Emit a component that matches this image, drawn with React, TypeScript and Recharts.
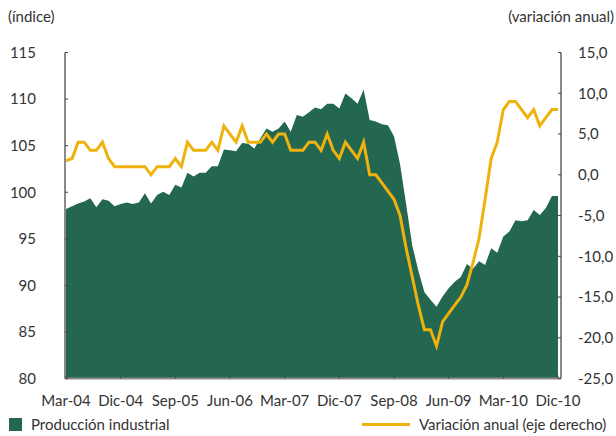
import React from 'react';
import { ComposedChart, Area, Line, XAxis, YAxis } from 'recharts';

const months: string[] = [
  'Mar-04','Abr-04','May-04','Jun-04','Jul-04','Ago-04','Sep-04','Oct-04','Nov-04','Dic-04',
  'Ene-05','Feb-05','Mar-05','Abr-05','May-05','Jun-05','Jul-05','Ago-05','Sep-05','Oct-05','Nov-05','Dic-05',
  'Ene-06','Feb-06','Mar-06','Abr-06','May-06','Jun-06','Jul-06','Ago-06','Sep-06','Oct-06','Nov-06','Dic-06',
  'Ene-07','Feb-07','Mar-07','Abr-07','May-07','Jun-07','Jul-07','Ago-07','Sep-07','Oct-07','Nov-07','Dic-07',
  'Ene-08','Feb-08','Mar-08','Abr-08','May-08','Jun-08','Jul-08','Ago-08','Sep-08','Oct-08','Nov-08','Dic-08',
  'Ene-09','Feb-09','Mar-09','Abr-09','May-09','Jun-09','Jul-09','Ago-09','Sep-09','Oct-09','Nov-09','Dic-09',
  'Ene-10','Feb-10','Mar-10','Abr-10','May-10','Jun-10','Jul-10','Ago-10','Sep-10','Oct-10','Nov-10','Dic-10',
];

const produccion: number[] = [
  98.2, 98.5, 98.8, 99.0, 99.35, 98.4, 99.25, 99.1, 98.5, 98.75,
  98.9, 98.75, 98.9, 99.9, 98.8, 99.7, 100.05, 99.7, 100.8, 100.5,
  102.1, 101.7, 102.1, 102.1, 102.8, 102.8, 104.6, 104.5, 104.4, 105.3,
  105.2, 104.7, 105.8, 106.85, 106.5, 106.85, 107.6, 106.5, 108.3, 108.1,
  108.6, 109.1, 108.9, 109.5, 109.5, 109.0, 110.6, 110.1, 109.5, 111.0,
  107.75, 107.6, 107.3, 107.2, 106.0, 103.0, 98.7, 94.3, 91.6, 89.3,
  88.45, 87.7, 88.8, 89.7, 90.4, 90.9, 92.3, 91.8, 92.6, 92.2,
  94.0, 93.5, 95.25, 95.8, 97.0, 96.9, 97.0, 98.1, 97.55, 98.3,
  99.6, 99.6,
];

const variacion: number[] = [
  1.7, 2.0, 4.0, 4.0, 3.0, 3.0, 4.0, 2.0, 1.0, 1.0,
  1.0, 1.0, 1.0, 1.0, 0.0, 1.0, 1.0, 1.0, 2.0, 1.0,
  4.0, 3.0, 3.0, 3.0, 4.0, 3.0, 6.0, 5.0, 4.0, 6.0,
  4.0, 4.0, 4.0, 5.0, 4.0, 5.0, 5.0, 3.0, 3.0, 3.0,
  4.0, 4.0, 3.0, 5.0, 3.0, 2.0, 4.0, 3.0, 2.0, 4.0,
  0.0, 0.0, -1.0, -2.0, -3.0, -5.0, -9.0, -12.5, -16.0, -19.0,
  -19.0, -21.0, -18.0, -17.0, -16.0, -15.0, -13.5, -10.8, -7.8, -3.0,
  2.0, 4.0, 8.0, 9.0, 9.0, 8.0, 7.0, 8.0, 6.0, 7.0,
  8.0, 8.0,
];

const leftTicks: number[] = [80, 85, 90, 95, 100, 105, 110, 115];
const rightTicks: number[] = [-25, -20, -15, -10, -5, 0, 5, 10, 15];

const seriesNames = {
  produccion: 'Producción industrial',
  variacion: 'Variación anual (eje derecho)',
};
const axisTitles = { left: '(índice)', right: '(variación anual)' };

const data = months.map((m, i) => ({ month: m, produccion: produccion[i], variacion: variacion[i] }));

const GREEN = '#236750';
const YELLOW = '#EFB20C';
const TEXT = '#333333';
const AXIS = '#8a8a8a';
const FONT = 'Lato, "Open Sans", sans-serif';
const FS = 15;

const fmtRight = (v: number) => v.toFixed(1).replace('.', ',');

const LeftTick = (props: any) => {
  const { x, y, payload } = props;
  return (
    <g>
      <line x1={x} x2={x + 3} y1={y} y2={y} stroke="#444" strokeWidth={1} />
      <text x={x - 29} y={y} dy="0.35em" textAnchor="end" fill={TEXT} fontSize={FS} fontFamily={FONT}>
        {payload.value}
      </text>
    </g>
  );
};

const RightTick = (props: any) => {
  const { x, y, payload } = props;
  return (
    <g>
      <line x1={x - 3} x2={x} y1={y} y2={y} stroke="#444" strokeWidth={1} />
      <text x={x + 17} y={y} dy="0.35em" textAnchor="start" fill={TEXT} fontSize={FS} fontFamily={FONT}>
        {fmtRight(payload.value)}
      </text>
    </g>
  );
};

const BottomTick = (props: any) => {
  const { x, y, payload } = props;
  return (
    <g>
      <line x1={x} x2={x} y1={y} y2={y - 3} stroke="#444" strokeWidth={1} />
      <text x={x} y={y + 22} dy="0.35em" textAnchor="middle" fill={TEXT} fontSize={FS} fontFamily={FONT}>
        {payload.value}
      </text>
    </g>
  );
};

export default function App() {
  return (
    <div style={{ position: 'absolute', left: 0, top: 0, width: 616, height: 436, background: '#fff', fontFamily: FONT }}>
      <div style={{ position: 'absolute', left: 8, top: 6, fontSize: FS, color: TEXT, lineHeight: '20px' }}>{axisTitles.left}</div>
      <div style={{ position: 'absolute', right: 2, top: 6, fontSize: FS, color: TEXT, lineHeight: '20px' }}>{axisTitles.right}</div>
      <ComposedChart width={616} height={436} data={data} margin={{ top: 52.5, right: 0, bottom: 27.4, left: 0 }}>
        <XAxis
          dataKey="month"
          interval={8}
          tickSize={0}
          tickMargin={0}
          height={30}
          padding={{ left: 1, right: 3 }}
          axisLine={{ stroke: AXIS, strokeWidth: 2 }}
          tickLine={false}
          tick={<BottomTick />}
        />
        <YAxis
          yAxisId="left"
          orientation="left"
          width={65}
          domain={[80, 115]}
          ticks={leftTicks}
          allowDataOverflow
          tickSize={0}
          tickMargin={0}
          axisLine={{ stroke: AXIS, strokeWidth: 2 }}
          tickLine={false}
          tick={<LeftTick />}
        />
        <YAxis
          yAxisId="right"
          orientation="right"
          width={55}
          domain={[-25, 15]}
          ticks={rightTicks}
          allowDataOverflow
          tickSize={0}
          tickMargin={0}
          axisLine={{ stroke: AXIS, strokeWidth: 2 }}
          tickLine={false}
          tick={<RightTick />}
        />
        <Area
          yAxisId="left"
          dataKey="produccion"
          name={seriesNames.produccion}
          type="linear"
          fill={GREEN}
          fillOpacity={1}
          stroke="none"
          isAnimationActive={false}
        />
        <Line
          yAxisId="right"
          dataKey="variacion"
          name={seriesNames.variacion}
          type="linear"
          stroke={YELLOW}
          strokeWidth={3}
          dot={false}
          isAnimationActive={false}
        />
      </ComposedChart>
      <div style={{ position: 'absolute', left: 9, top: 418, width: 13, height: 13, background: GREEN }} />
      <div style={{ position: 'absolute', left: 31, top: 414, fontSize: FS, color: TEXT, lineHeight: '20px', whiteSpace: 'nowrap' }}>{seriesNames.produccion}</div>
      <div style={{ position: 'absolute', left: 362, top: 423, width: 48, height: 3, background: YELLOW }} />
      <div style={{ position: 'absolute', left: 419, top: 414, fontSize: FS, color: TEXT, lineHeight: '20px', whiteSpace: 'nowrap' }}>{seriesNames.variacion}</div>
    </div>
  );
}
